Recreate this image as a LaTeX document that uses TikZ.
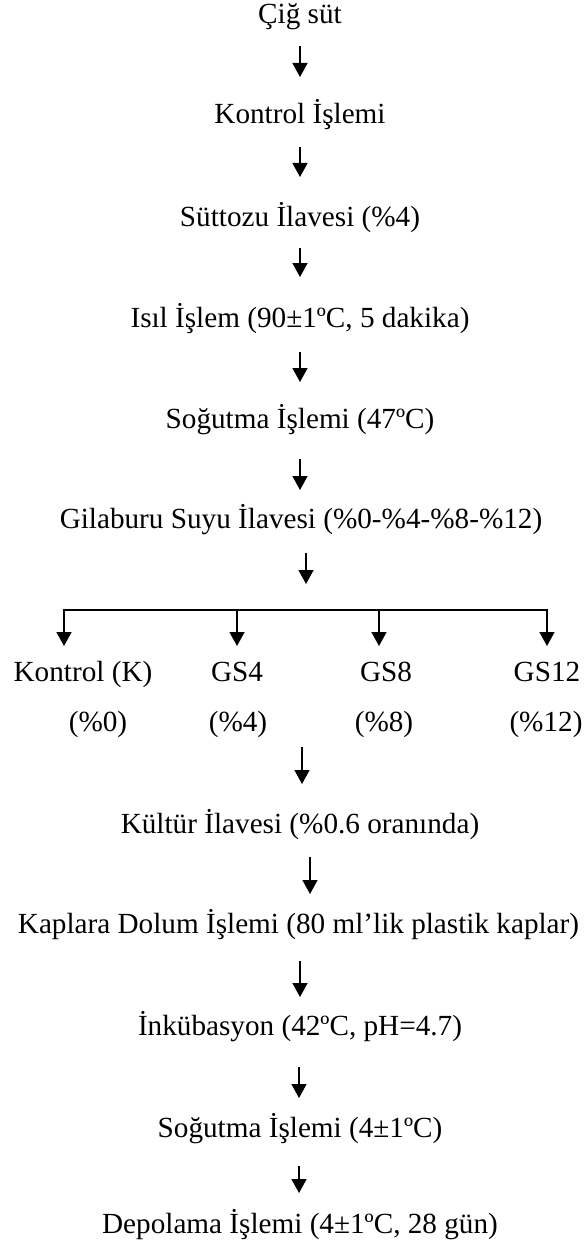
\documentclass[tikz,border=0pt]{standalone}
\usepackage{fontspec}
\setmainfont{Liberation Serif}
\usetikzlibrary{arrows.meta}
\begin{document}
\begin{tikzpicture}[x=1pt,y=-1pt,
  lbl/.style={inner sep=0pt,anchor=base,font=\fontsize{29.2}{35}\selectfont},
  arr/.style={line width=1.4pt,-{Triangle[length=14pt,width=15pt]}},
  bar/.style={line width=1.4pt}]
\useasboundingbox (0,0) rectangle (584,1249);
% steps
\node[lbl] (n1) at (300,24) {Çiğ süt};
\node[lbl] (n2) at (300,124) {Kontrol İşlemi};
\node[lbl] (n3) at (300,226) {Süttozu İlavesi (\%4)};
\node[lbl] (n4) at (300,327) {Isıl İşlem (90±1ºC, 5 dakika)};
\node[lbl] (n5) at (300,428) {Soğutma İşlemi (47ºC)};
\node[lbl] (n6) at (301,528) {Gilaburu Suyu İlavesi (\%0-\%4-\%8-\%12)};
\node[lbl] (k1) at (83,681) {Kontrol (K)};
\node[lbl] (k2) at (237,681) {GS4};
\node[lbl] (k3) at (386,681) {GS8};
\node[lbl] (k4) at (547,681) {GS12};
\node[lbl] (p1) at (98,731) {(\%0)};
\node[lbl] (p2) at (238,731) {(\%4)};
\node[lbl] (p3) at (384,731) {(\%8)};
\node[lbl] (p4) at (546,731) {(\%12)};
\node[lbl] (n7) at (300,833) {Kültür İlavesi (\%0.6 oranında)};
\node[lbl] (n8) at (298.5,933) {Kaplara Dolum İşlemi (80 ml’lik plastik kaplar)};
\node[lbl] (n9) at (300,1035) {İnkübasyon (42ºC, pH=4.7)};
\node[lbl] (n10) at (300,1137) {Soğutma İşlemi (4±1ºC)};
\node[lbl] (n11) at (300,1233) {Depolama İşlemi (4±1ºC, 28 gün)};
% arrow end points
\coordinate (a1s) at (300,46);  \coordinate (a1e) at (300,77);
\coordinate (a2s) at (300,147); \coordinate (a2e) at (300,177);
\coordinate (a3s) at (300,248); \coordinate (a3e) at (300,277);
\coordinate (a4s) at (300,352); \coordinate (a4e) at (300,382);
\coordinate (a5s) at (300,459); \coordinate (a5e) at (300,490);
\coordinate (a6s) at (306,553); \coordinate (a6e) at (306,584);
\coordinate (bl) at (64,610);   \coordinate (br) at (547,610);
\coordinate (b1) at (64,610);   \coordinate (b1e) at (64,646);
\coordinate (b2) at (237,610);  \coordinate (b2e) at (237,646);
\coordinate (b3) at (379,610);  \coordinate (b3e) at (379,646);
\coordinate (b4) at (547,610);  \coordinate (b4e) at (547,646);
\coordinate (a7s) at (302,747); \coordinate (a7e) at (302,784);
\coordinate (a8s) at (310,857); \coordinate (a8e) at (310,894);
\coordinate (a9s) at (300,961); \coordinate (a9e) at (300,997);
\coordinate (a10s) at (299,1067); \coordinate (a10e) at (299,1098);
\coordinate (a11s) at (299,1166); \coordinate (a11e) at (299,1193);
% connectors
\draw[arr] (a1s) -- (a1e);
\draw[arr] (a2s) -- (a2e);
\draw[arr] (a3s) -- (a3e);
\draw[arr] (a4s) -- (a4e);
\draw[arr] (a5s) -- (a5e);
\draw[arr] (a6s) -- (a6e);
\draw[bar] ([xshift=-0.7pt]bl) -- ([xshift=0.7pt]br);
\draw[arr] (b1) -- (b1e);
\draw[arr] (b2) -- (b2e);
\draw[arr] (b3) -- (b3e);
\draw[arr] (b4) -- (b4e);
\draw[arr] (a7s) -- (a7e);
\draw[arr] (a8s) -- (a8e);
\draw[arr] (a9s) -- (a9e);
\draw[arr] (a10s) -- (a10e);
\draw[arr] (a11s) -- (a11e);
\end{tikzpicture}
\end{document}
